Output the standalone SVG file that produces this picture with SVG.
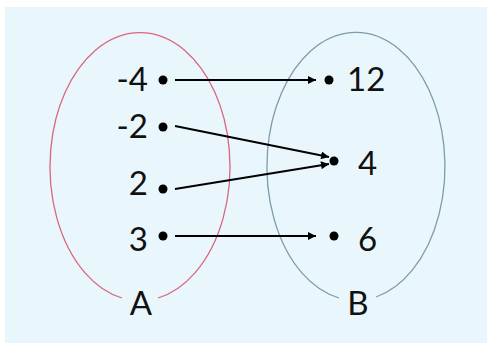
<svg xmlns="http://www.w3.org/2000/svg" width="487" height="344" viewBox="0 0 487 344">
<style>
.lbl{font-family:Lato,"Open Sans","Liberation Sans",sans-serif;font-size:33px;fill:#111}
.dot{fill:#000}
.conn{stroke:#000;stroke-width:2;fill:none}
</style>
<defs>
<marker id="ah" viewBox="0 0 10 10" refX="10" refY="5" markerWidth="4.2" markerHeight="4" orient="auto" markerUnits="strokeWidth">
<path d="M0,0 L10,5 L0,10 Z" fill="#000"/>
</marker>
</defs>
<rect x="0" y="0" width="487" height="344" fill="#fff"/>
<rect x="5" y="7" width="482" height="336" fill="#e9f7fc"/>
<g id="setA">
<path d="M122,298 A90,134 0 1 1 158,298" fill="none" stroke="#d9667e" stroke-width="1.3"/>
<text class="lbl" x="141" y="315" text-anchor="middle">A</text>
</g>
<g id="setB">
<path d="M339,298 A89,134 0 1 1 376,297" fill="none" stroke="#7f9aa8" stroke-width="1.3"/>
<text class="lbl" x="358" y="315" text-anchor="middle">B</text>
</g>
<g id="a-4"><circle class="dot" cx="163" cy="80" r="4.5"/><text class="lbl" x="148" y="91" text-anchor="end">-4</text></g>
<g id="a-2"><circle class="dot" cx="163" cy="127" r="4.5"/><text class="lbl" x="148" y="138" text-anchor="end">-2</text></g>
<g id="a2"><circle class="dot" cx="163" cy="189" r="4.5"/><text class="lbl" x="148" y="195" text-anchor="end">2</text></g>
<g id="a3"><circle class="dot" cx="163" cy="236" r="4.5"/><text class="lbl" x="148" y="251" text-anchor="end">3</text></g>
<g id="b12"><circle class="dot" cx="329" cy="80" r="4.5"/><text class="lbl" x="347" y="91">12</text></g>
<g id="b4"><circle class="dot" cx="334" cy="161" r="4.5"/><text class="lbl" x="358" y="175">4</text></g>
<g id="b6"><circle class="dot" cx="334" cy="236" r="4.5"/><text class="lbl" x="358" y="251">6</text></g>
<g id="connectors">
<line class="conn" x1="175" y1="80" x2="316" y2="80" marker-end="url(#ah)"/>
<line class="conn" x1="175" y1="126" x2="329" y2="157" marker-end="url(#ah)"/>
<line class="conn" x1="175" y1="189" x2="329" y2="164" marker-end="url(#ah)"/>
<line class="conn" x1="175" y1="236" x2="316" y2="236" marker-end="url(#ah)"/>
</g>
</svg>
